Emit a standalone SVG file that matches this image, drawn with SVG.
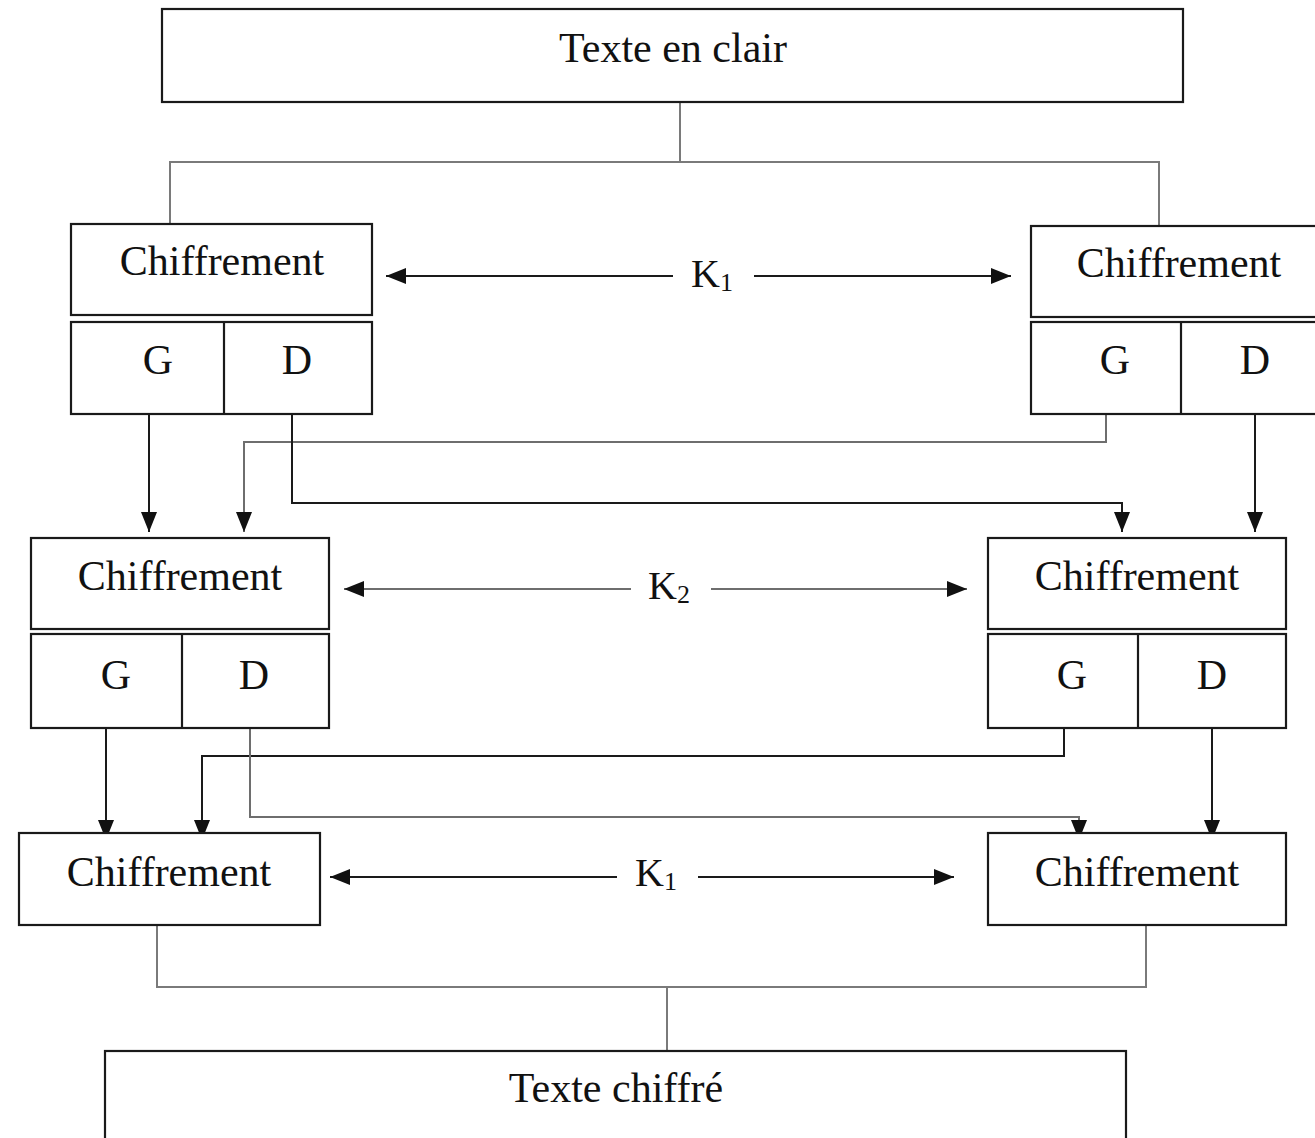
<svg xmlns="http://www.w3.org/2000/svg" width="1315" height="1138" viewBox="0 0 1315 1138">
  <style>
    .box { fill: #ffffff; stroke: #1a1a1a; stroke-width: 2.2; }
    .lbl { font-family: "Liberation Serif", "Times New Roman", serif; font-size: 42px; fill: #111111; text-anchor: middle; }
    .key { font-family: "Liberation Serif", "Times New Roman", serif; font-size: 40px; fill: #111111; }
    .sub { font-size: 26px; }
    .wire { fill: none; stroke: #1a1a1a; stroke-width: 2; }
    .tree { fill: none; stroke: #7a7a7a; stroke-width: 2; }
    .soft { fill: none; stroke: #6e6e6e; stroke-width: 2; }
    .arr { marker-end: url(#head); }
  </style>
  <defs>
    <marker id="head" viewBox="0 0 20 16" refX="20" refY="8" markerWidth="20" markerHeight="16" markerUnits="userSpaceOnUse" orient="auto">
      <path d="M0,0 L20,8 L0,16 Z" fill="#111111"/>
    </marker>
  </defs>

  <!-- connectors -->
  <g id="connectors">
    <!-- plaintext split -->
    <path class="tree" d="M680,102 V162 M170,224 V162 H1159 V226"/>

    <!-- round 1 keys -->
    <path class="wire arr" d="M673,276 H386"/>
    <path class="wire arr" d="M754,276 H1011"/>

    <!-- round 1 -> round 2 -->
    <path class="wire arr" d="M149,414 V532"/>
    <path class="soft arr" d="M1106,414 V442 H244 V532"/>
    <path class="wire arr" d="M292,414 V503 H1122 V532"/>
    <path class="wire arr" d="M1255,414 V532"/>

    <!-- round 2 keys -->
    <path class="soft arr" d="M631,589 H344"/>
    <path class="soft arr" d="M711,589 H967"/>

    <!-- round 2 -> round 3 -->
    <path class="wire arr" d="M106,720 V840"/>
    <path class="wire arr" d="M1064,728 V756 H202 V840"/>
    <path class="soft arr" d="M250,728 V817 H1079 V840"/>
    <path class="wire arr" d="M1212,728 V840"/>

    <!-- round 3 keys -->
    <path class="wire arr" d="M617,877 H330"/>
    <path class="wire arr" d="M698,877 H954"/>

    <!-- ciphertext merge -->
    <path class="tree" d="M157,925 V987 H1146 V925 M667,987 V1051"/>
  </g>

  <!-- key labels -->
  <g id="key-r1">
    <text class="key" x="691" y="287">K<tspan class="sub" dy="4">1</tspan></text>
  </g>
  <g id="key-r2">
    <text class="key" x="648" y="599">K<tspan class="sub" dy="4">2</tspan></text>
  </g>
  <g id="key-r3">
    <text class="key" x="635" y="886">K<tspan class="sub" dy="4">1</tspan></text>
  </g>

  <!-- plaintext -->
  <g id="plaintext">
    <rect class="box" x="162" y="9" width="1021" height="93"/>
    <text class="lbl" x="673" y="62">Texte en clair</text>
  </g>

  <!-- round 1 -->
  <g id="enc-r1-left">
    <rect class="box" x="71" y="224" width="301" height="91"/>
    <text class="lbl" x="222" y="275">Chiffrement</text>
    <rect class="box" x="71" y="322" width="301" height="92"/>
    <line class="box" x1="224" y1="322" x2="224" y2="414"/>
    <text class="lbl" x="158" y="374">G</text>
    <text class="lbl" x="297" y="374">D</text>
  </g>
  <g id="enc-r1-right">
    <rect class="box" x="1031" y="226" width="301" height="91"/>
    <text class="lbl" x="1179" y="277">Chiffrement</text>
    <rect class="box" x="1031" y="322" width="301" height="92"/>
    <line class="box" x1="1181" y1="322" x2="1181" y2="414"/>
    <text class="lbl" x="1115" y="374">G</text>
    <text class="lbl" x="1255" y="374">D</text>
  </g>

  <!-- round 2 -->
  <g id="enc-r2-left">
    <rect class="box" x="31" y="538" width="298" height="91"/>
    <text class="lbl" x="180" y="590">Chiffrement</text>
    <rect class="box" x="31" y="634" width="298" height="94"/>
    <line class="box" x1="182" y1="634" x2="182" y2="728"/>
    <text class="lbl" x="116" y="689">G</text>
    <text class="lbl" x="254" y="689">D</text>
  </g>
  <g id="enc-r2-right">
    <rect class="box" x="988" y="538" width="298" height="91"/>
    <text class="lbl" x="1137" y="590">Chiffrement</text>
    <rect class="box" x="988" y="634" width="298" height="94"/>
    <line class="box" x1="1138" y1="634" x2="1138" y2="728"/>
    <text class="lbl" x="1072" y="689">G</text>
    <text class="lbl" x="1212" y="689">D</text>
  </g>

  <!-- round 3 -->
  <g id="enc-r3-left">
    <rect class="box" x="19" y="833" width="301" height="92"/>
    <text class="lbl" x="169" y="886">Chiffrement</text>
  </g>
  <g id="enc-r3-right">
    <rect class="box" x="988" y="833" width="298" height="92"/>
    <text class="lbl" x="1137" y="886">Chiffrement</text>
  </g>

  <!-- ciphertext -->
  <g id="ciphertext">
    <rect class="box" x="105" y="1051" width="1021" height="100"/>
    <text class="lbl" x="616" y="1102">Texte chiffré</text>
  </g>
</svg>
